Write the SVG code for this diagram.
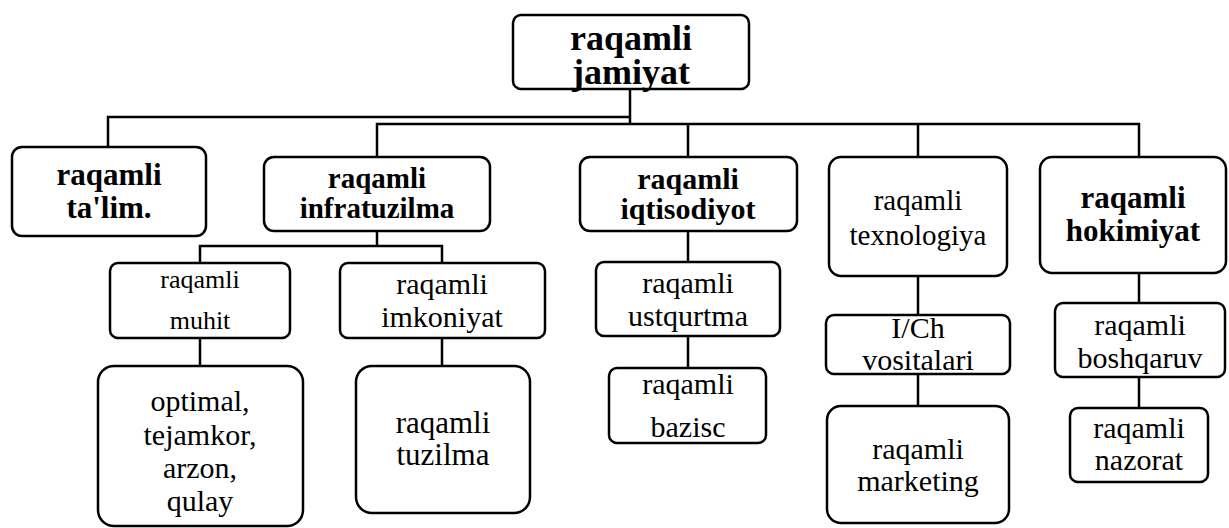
<svg xmlns="http://www.w3.org/2000/svg" width="1229" height="528" viewBox="0 0 1229 528">
<style>
.box{fill:#fff;stroke:#000;stroke-width:2.5}
.ln{fill:none;stroke:#000;stroke-width:2.5}
text{font-family:"Liberation Serif","Times New Roman",serif;text-anchor:middle;fill:#000}
.b{font-weight:bold}
</style>
<rect width="1229" height="528" fill="#fff"/>
<g id="connectors">
<path class="ln" d="M630,89 V124"/>
<path class="ln" d="M108,147 V117 H630"/>
<path class="ln" d="M377,157 V124 H1139 V157"/>
<path class="ln" d="M688,124 V157 M918,124 V157"/>
<path class="ln" d="M377,231 V246 M200,263 V246 H442 V263"/>
<path class="ln" d="M200,338 V366 M442,338 V366"/>
<path class="ln" d="M688,231 V262 M688,336 V368"/>
<path class="ln" d="M918,276 V315 M918,374 V406"/>
<path class="ln" d="M1139,273 V303 M1139,377 V408"/>
</g>
<g id="root">
<rect class="box" x="513" y="15" width="236" height="74" rx="8"/>
<text class="b" x="631" y="50" font-size="36">raqamli</text>
<text class="b" x="631" y="84" font-size="36">jamiyat</text>
</g>
<g id="talim">
<rect class="box" x="12" y="147" width="194" height="89" rx="10"/>
<text class="b" x="109" y="185" font-size="31">raqamli</text>
<text class="b" x="109" y="218" font-size="31">ta'lim.</text>
</g>
<g id="infratuzilma">
<rect class="box" x="264" y="157" width="226" height="74" rx="10"/>
<text class="b" x="377" y="188" font-size="29">raqamli</text>
<text class="b" x="377" y="218" font-size="29">infratuzilma</text>
</g>
<g id="iqtisodiyot">
<rect class="box" x="580" y="157" width="217" height="74" rx="10"/>
<text class="b" x="688" y="189" font-size="30">raqamli</text>
<text class="b" x="688" y="219" font-size="30">iqtisodiyot</text>
</g>
<g id="texnologiya">
<rect class="box" x="829" y="157" width="178" height="119" rx="12"/>
<text x="918" y="210" font-size="29">raqamli</text>
<text x="918" y="245" font-size="29">texnologiya</text>
</g>
<g id="hokimiyat">
<rect class="box" x="1040" y="157" width="186" height="116" rx="12"/>
<text class="b" x="1133" y="208" font-size="31">raqamli</text>
<text class="b" x="1133" y="241" font-size="31">hokimiyat</text>
</g>
<g id="muhit">
<rect class="box" x="110" y="263" width="180" height="75" rx="8"/>
<text x="200" y="288" font-size="26">raqamli</text>
<text x="200" y="329" font-size="26">muhit</text>
</g>
<g id="imkoniyat">
<rect class="box" x="340" y="263" width="205" height="75" rx="8"/>
<text x="442" y="294" font-size="30">raqamli</text>
<text x="442" y="327" font-size="30">imkoniyat</text>
</g>
<g id="optimal">
<rect class="box" x="98" y="366" width="205" height="160" rx="16"/>
<text x="200" y="411" font-size="30">optimal,</text>
<text x="200" y="445" font-size="30">tejamkor,</text>
<text x="200" y="478" font-size="30">arzon,</text>
<text x="200" y="511" font-size="30">qulay</text>
</g>
<g id="tuzilma">
<rect class="box" x="356" y="366" width="174" height="147" rx="16"/>
<text x="443" y="433" font-size="31">raqamli</text>
<text x="443" y="465" font-size="31">tuzilma</text>
</g>
<g id="ustqurtma">
<rect class="box" x="596" y="262" width="184" height="74" rx="8"/>
<text x="688" y="293" font-size="30">raqamli</text>
<text x="688" y="326" font-size="30">ustqurtma</text>
</g>
<g id="bazisc">
<rect class="box" x="609" y="368" width="157" height="75" rx="8"/>
<text x="688" y="394" font-size="30">raqamli</text>
<text x="688" y="437" font-size="30">bazisc</text>
</g>
<g id="ich">
<rect class="box" x="826" y="315" width="184" height="59" rx="8"/>
<text x="918" y="338" font-size="30">I/Ch</text>
<text x="918" y="370" font-size="30">vositalari</text>
</g>
<g id="marketing">
<rect class="box" x="827" y="406" width="182" height="117" rx="14"/>
<text x="918" y="459" font-size="30">raqamli</text>
<text x="918" y="491" font-size="30">marketing</text>
</g>
<g id="boshqaruv">
<rect class="box" x="1055" y="303" width="170" height="74" rx="8"/>
<text x="1140" y="335" font-size="30">raqamli</text>
<text x="1140" y="368" font-size="30">boshqaruv</text>
</g>
<g id="nazorat">
<rect class="box" x="1070" y="408" width="138" height="74" rx="8"/>
<text x="1139" y="438" font-size="30">raqamli</text>
<text x="1139" y="470" font-size="30">nazorat</text>
</g>
</svg>
